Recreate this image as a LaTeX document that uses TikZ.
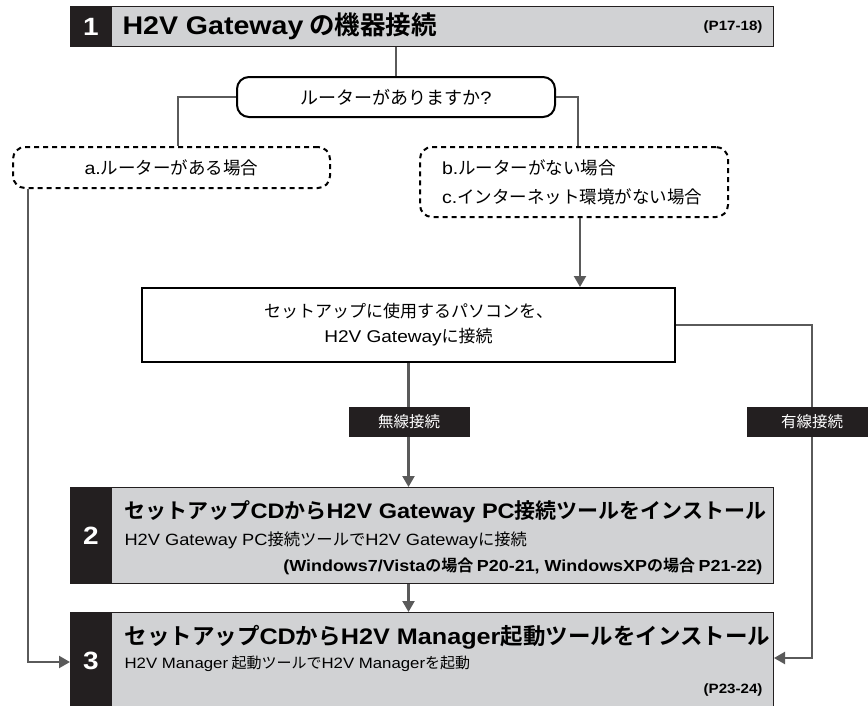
\documentclass[tikz,border=0pt]{standalone}
\usepackage{fontspec}
\setmainfont{Noto Sans CJK JP}[BoldFont={Noto Sans CJK JP Bold}]
\newfontfamily\latf{Liberation Sans}[FakeStretch=1.12]
\newcommand\LA[1]{{\latf #1}}
\usetikzlibrary{arrows.meta,calc}
\definecolor{barblack}{HTML}{231F20}
\definecolor{boxgray}{HTML}{D1D2D4}
\definecolor{linegray}{HTML}{5A5A5A}
\begin{document}
\begin{tikzpicture}[x=1pt,y=-1pt,
  conn/.style={draw=linegray, line width=2.2pt},
  arr/.style={conn, -{Triangle[width=12pt,length=11pt]}},
  graybox/.style={draw=barblack, line width=1pt, fill=boxgray, inner sep=0pt, anchor=north west},
  numbar/.style={fill=barblack, draw=barblack, line width=1pt, text=white, inner sep=0pt, anchor=north west, font=\latf\bfseries\fontsize{25}{25}\selectfont},
  qbox/.style={draw=black, line width=2pt, rounded corners=12pt, fill=white, font=\fontsize{18}{18}\selectfont},
  dbox/.style={draw=black, line width=2pt, dash pattern=on 5pt off 4pt, rounded corners=12pt, font=\fontsize{17.5}{17.5}\selectfont},
  sbox/.style={draw=black, line width=2pt, fill=white, align=center, font=\fontsize{17}{25}\selectfont},
  tag/.style={fill=barblack, text=white, font=\fontsize{15.5}{15.5}\selectfont, minimum height=30pt, inner sep=0pt},
  bigtxt/.style={anchor=west, font=\bfseries\fontsize{21}{21}\selectfont},
  midtxt/.style={anchor=west, font=\fontsize{16.3}{16.3}\selectfont},
  reftxt/.style={anchor=east, font=\bfseries\fontsize{16}{16}\selectfont},
  pagetxt/.style={anchor=east, font=\bfseries\fontsize{13.5}{13.5}\selectfont},
]
\useasboundingbox (0,0) rectangle (868,705);

% header 1
\node[graybox, minimum width=703pt, minimum height=40pt] (h1) at (70,6) {};
\node[numbar, minimum width=41pt, minimum height=40pt] (n1) at (70,6) {1};
\node[anchor=west, font=\bfseries\fontsize{25.5}{25.5}\selectfont] (h1t) at (119,26) {\LA{H2V Gateway} の機器接続};
\node[pagetxt] (h1r) at (766,27) {\LA{(P17-18)}};

% question
\node[qbox, minimum width=318pt, minimum height=40pt] (q) at (396,97) {ルーターがありますか\LA{?}};

% cases
\node[dbox, minimum width=317pt, minimum height=41pt] (a) at (171.5,167.5) {\LA{a.}ルーターがある場合};
\node[dbox, text width=264pt, inner xsep=22pt, minimum height=70pt, align=left, font=\fontsize{17.5}{29}\selectfont] (b) at (574,182) {\LA{b.}ルーターがない場合\\\LA{c.}インターネット環境がない場合};

% setup box
\node[sbox, minimum width=533pt, minimum height=74pt] (s) at (408.5,325) {セットアップに使用するパソコンを、\\\LA{H2V Gateway}に接続};

% box 2
\node[graybox, minimum width=703pt, minimum height=96pt] (g2) at (70,487) {};
\node[numbar, minimum width=41pt, minimum height=96pt] (n2) at (70,487) {2};
\node[bigtxt] (g2a) at (121,512) {セットアップ\LA{CD}から\LA{H2V Gateway PC}接続ツールをインストール};
\node[midtxt] (g2b) at (121,540) {\LA{H2V Gateway PC}接続ツールで\LA{H2V Gateway}に接続};
\node[reftxt] (g2c) at (766,566) {\LA{(Windows7/Vista}の場合 \LA{P20-21, WindowsXP}の場合 \LA{P21-22)}};

% box 3
\node[graybox, minimum width=703pt, minimum height=96pt] (g3) at (70,612) {};
\node[numbar, minimum width=41pt, minimum height=96pt] (n3) at (70,612) {3};
\node[bigtxt, font=\bfseries\fontsize{22.5}{22.5}\selectfont] (g3a) at (121,637) {セットアップ\LA{CD}から\LA{H2V Manager}起動ツールをインストール};
\node[midtxt, font=\fontsize{15}{15}\selectfont] (g3b) at (121,664) {\LA{H2V Manager} 起動ツールで\LA{H2V Manager}を起動};
\node[pagetxt] (g3c) at (766,690) {\LA{(P23-24)}};

% connectors
\coordinate (ajoin) at (178,0);
\coordinate (bjoin) at (578,0);
\coordinate (bdown) at (580,0);
\coordinate (lc) at (28,662);
\coordinate (rc) at (812,658);
\draw[conn] (q.north |- h1.south) -- (q.north);
\draw[conn] (q.west) -| (ajoin |- a.north);
\draw[conn] (q.east) -| (bjoin |- b.north);
\draw[arr] (bdown |- b.south) -- (bdown |- s.north);
\draw[arr] (s.south) -- (s.south |- g2.north);
\draw[arr] (s.east) -| (rc) -- (rc -| g3.east);
\draw[arr] (lc |- a.south) -- (lc) -- (lc -| n3.west);
\draw[arr] (s.south |- g2.south) -- (s.south |- g3.north);

% tags
\node[tag, minimum width=121pt] (t1) at (409,422) {無線接続};
\node[tag, minimum width=130pt] (t2) at (812,422) {有線接続};
\end{tikzpicture}
\end{document}
